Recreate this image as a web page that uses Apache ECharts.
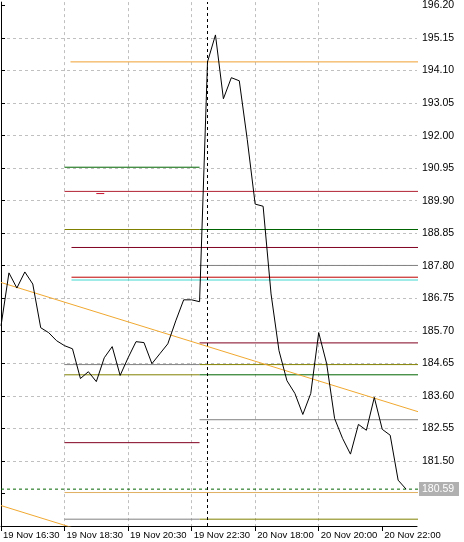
<!DOCTYPE html>
<html><head><meta charset="utf-8">
<script src="https://cdn.jsdelivr.net/npm/echarts@6/dist/echarts.min.js"></script>
<style>html,body{margin:0;padding:0;background:#fff;overflow:hidden}#c{width:464px;height:542px;}</style>
</head><body><div id="c"></div>
<script>
// ---- data ----
const timeLabels = ['19 Nov 16:30','19 Nov 18:30','19 Nov 20:30','19 Nov 22:30','20 Nov 18:00','20 Nov 20:00','20 Nov 22:00'];
const labelBars = [0, 8, 16, 24, 32, 40, 48];
const closes = [185.86, 187.57, 187.08, 187.60, 187.21, 185.80, 185.64, 185.38, 185.22, 185.12,
  184.16, 184.38, 184.06, 184.83, 185.19, 184.26, 184.83, 185.35, 185.32, 184.64,
  184.96, 185.28, 186.02, 186.70, 186.70, 186.64, 194.38, 195.25, 193.19, 193.87,
  193.77, 191.88, 189.79, 189.72, 186.89, 185.06, 184.09, 183.68, 183.00, 183.68,
  185.64, 184.64, 182.87, 182.23, 181.72, 182.68, 182.49, 183.55, 182.52, 182.33,
  180.88, 180.59];
const yTicks = [180.45, 181.50, 182.55, 183.60, 184.65, 185.70, 186.75, 187.80, 188.85, 189.90, 190.95, 192.00, 193.05, 194.10, 195.15, 196.20];
const currentPrice = 180.59;
const markerBar = 26;
// horizontal levels
const levelPrice = [194.38, 190.98, 190.20, 190.13, 188.97, 188.97, 188.39, 187.81, 187.43, 187.34, 185.31, 184.61, 184.61, 184.28, 184.28, 182.83, 182.09, 180.48, 179.62, 179.62];
const levelFrom  = [8.75,   8,      8,      12,     8,      25,     8.875,  25,     8.875,  8.875,  25,     8,      25,     8,      25,     25,     8,      8,      8,      25];
const levelTo    = [53,     25,     53,     13,     25,     53,     53,     53,     53,     53,     53,     25,     53,     25,     53,     53,     25,     53,     25,     53];
const levelColor = ['#f0a030','#006400','#b22234','#c8102e','#808000','#006400','#800020','#808080','#c00000','#40d8d0','#800020','#808080','#808000','#808000','#006400','#808080','#800020','#e0b060','#808080','#808000'];
// trend channel (bar, price pairs)
const trendUpper = [[0, 187.26], [53, 183.05]];
const trendLower = [[0, 180.06], [53, 175.85]];

// ---- chart ----
const chart = echarts.init(document.getElementById('c'), null, {renderer: 'canvas'});
const FONT = 'Liberation Sans';
const xMax = 52.375;

const series = [];
levelPrice.forEach((p, i) => {
  series.push({type: 'line', data: [[levelFrom[i], p], [levelTo[i], p]], symbol: 'none', silent: true,
    lineStyle: {color: levelColor[i], width: 1}, z: 2});
});
series.push({type: 'line', data: [[0, currentPrice], [53, currentPrice]], symbol: 'none', silent: true,
  lineStyle: {color: '#006400', width: 1, type: [3, 3]}, z: 2});
[trendUpper, trendLower].forEach(t => series.push({type: 'line', data: t, symbol: 'none', silent: true,
  lineStyle: {color: '#f0a830', width: 1}, z: 2}));
series.push({
  type: 'line', data: closes.map((v, i) => [i, v]), symbol: 'none', z: 5,
  lineStyle: {color: '#000', width: 1},
  markLine: {symbol: 'none', silent: true, label: {show: false},
    lineStyle: {color: '#000', width: 1, type: [3, 3]},
    data: [{xAxis: markerBar}]}
});

chart.setOption({
  animation: false,
  backgroundColor: '#fff',
  grid: {left: -2, right: 47, top: 0, bottom: 16},
  xAxis: {
    type: 'value', min: 0, max: xMax, interval: 4,
    axisLine: {show: true, lineStyle: {color: '#000', width: 1}},
    axisTick: {show: true, length: 5, lineStyle: {color: '#000'}, customValues: labelBars},
    axisLabel: {show: true, customValues: labelBars, align: 'left', margin: 4, color: '#000',
      fontFamily: FONT, fontSize: 9.5, padding: [0, 0, 0, 2],
      formatter: v => { const k = labelBars.indexOf(Math.round(v)); return k >= 0 ? timeLabels[k] : ''; }},
    splitLine: {show: true, showMinLine: false, showMaxLine: false, lineStyle: {color: '#c0c0c0', type: [3, 3], width: 1}}
  },
  yAxis: {
    type: 'value', position: 'right', min: 179.40, max: 196.31, interval: 1.05, scale: true,
    axisLine: {show: true, lineStyle: {color: '#000', width: 1}},
    axisTick: {show: true, length: 4, lineStyle: {color: '#000'}, customValues: yTicks},
    axisLabel: {show: true, customValues: yTicks, margin: 5,
      color: '#000', fontFamily: FONT, fontSize: 10.5, formatter: v => v.toFixed(2)},
    splitLine: {show: true, showMinLine: false, showMaxLine: false, lineStyle: {color: '#c0c0c0', type: [3, 3], width: 1}}
  },
  series: series
});

const py = chart.convertToPixel({yAxisIndex: 0}, currentPrice);
chart.setOption({graphic: [
  {type: 'rect', shape: {x: 419, y: Math.round(py) - 7, width: 40, height: 14}, style: {fill: '#b0b0b0'}, z: 100},
  {type: 'text', x: 422, y: Math.round(py), style: {text: currentPrice.toFixed(2), fill: '#fff', font: '10.5px "Liberation Sans"', verticalAlign: 'middle'}, z: 101}
]});
</script></body></html>
